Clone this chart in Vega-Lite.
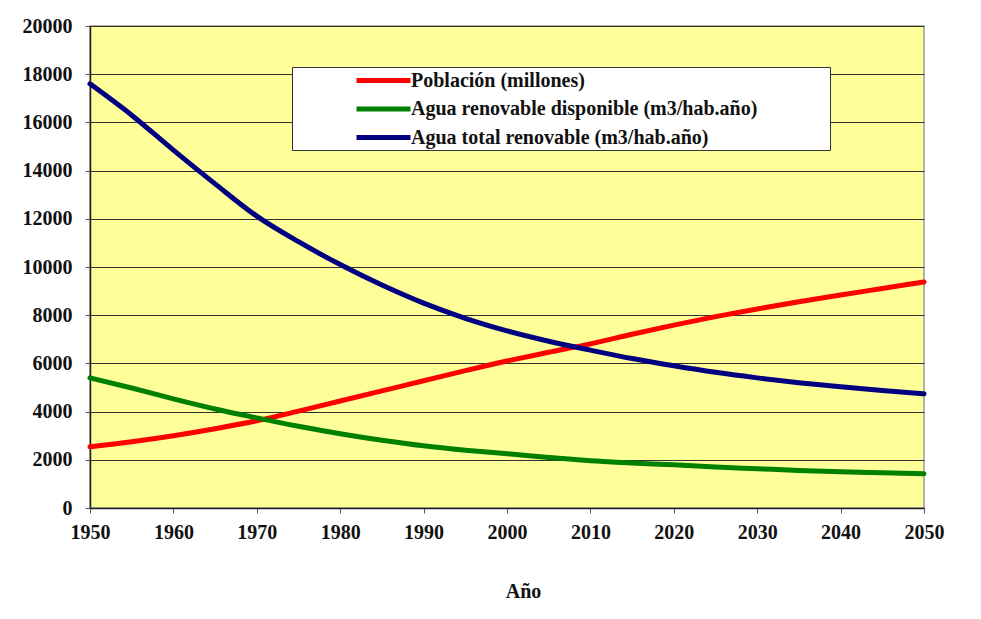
{
  "$schema": "https://vega.github.io/schema/vega-lite/v6.json",
  "autosize": {"type": "none"},
  "width": 834,
  "height": 482,
  "padding": {"left": 90, "top": 26, "right": 57, "bottom": 111},
  "background": "white",
  "config": {
    "font": "Liberation Serif",
    "view": {"fill": "#FFFF99", "stroke": "#9a9a9a", "strokeWidth": 1.5},
    "axis": {
      "labelFont": "Liberation Serif",
      "labelFontWeight": "bold",
      "labelFontSize": 20,
      "labelColor": "#111",
      "labelFlush": false,
      "domainColor": "#222",
      "domainWidth": 1.5,
      "tickColor": "#555",
      "tickSize": 5,
      "gridColor": "#333",
      "gridWidth": 1,
      "gridOpacity": 1
    }
  },
  "data": {
    "values": [
      {"year": 1950, "serie": "Población (millones)", "v": 2540},
      {"year": 1955, "serie": "Población (millones)", "v": 2750},
      {"year": 1960, "serie": "Población (millones)", "v": 3000},
      {"year": 1965, "serie": "Población (millones)", "v": 3290},
      {"year": 1970, "serie": "Población (millones)", "v": 3620},
      {"year": 1975, "serie": "Población (millones)", "v": 4020},
      {"year": 1980, "serie": "Población (millones)", "v": 4440},
      {"year": 1985, "serie": "Población (millones)", "v": 4860},
      {"year": 1990, "serie": "Población (millones)", "v": 5280},
      {"year": 1995, "serie": "Población (millones)", "v": 5700},
      {"year": 2000, "serie": "Población (millones)", "v": 6100},
      {"year": 2005, "serie": "Población (millones)", "v": 6460},
      {"year": 2010, "serie": "Población (millones)", "v": 6810},
      {"year": 2015, "serie": "Población (millones)", "v": 7210},
      {"year": 2020, "serie": "Población (millones)", "v": 7590},
      {"year": 2025, "serie": "Población (millones)", "v": 7940},
      {"year": 2030, "serie": "Población (millones)", "v": 8260},
      {"year": 2035, "serie": "Población (millones)", "v": 8560},
      {"year": 2040, "serie": "Población (millones)", "v": 8840},
      {"year": 2045, "serie": "Población (millones)", "v": 9110},
      {"year": 2050, "serie": "Población (millones)", "v": 9380},
      {"year": 1950, "serie": "Agua renovable disponible (m3/hab.año)", "v": 5400},
      {"year": 1955, "serie": "Agua renovable disponible (m3/hab.año)", "v": 4980},
      {"year": 1960, "serie": "Agua renovable disponible (m3/hab.año)", "v": 4530},
      {"year": 1965, "serie": "Agua renovable disponible (m3/hab.año)", "v": 4110},
      {"year": 1970, "serie": "Agua renovable disponible (m3/hab.año)", "v": 3740},
      {"year": 1975, "serie": "Agua renovable disponible (m3/hab.año)", "v": 3390},
      {"year": 1980, "serie": "Agua renovable disponible (m3/hab.año)", "v": 3080},
      {"year": 1985, "serie": "Agua renovable disponible (m3/hab.año)", "v": 2810},
      {"year": 1990, "serie": "Agua renovable disponible (m3/hab.año)", "v": 2580},
      {"year": 1995, "serie": "Agua renovable disponible (m3/hab.año)", "v": 2400},
      {"year": 2000, "serie": "Agua renovable disponible (m3/hab.año)", "v": 2250},
      {"year": 2005, "serie": "Agua renovable disponible (m3/hab.año)", "v": 2100},
      {"year": 2010, "serie": "Agua renovable disponible (m3/hab.año)", "v": 1960},
      {"year": 2015, "serie": "Agua renovable disponible (m3/hab.año)", "v": 1870},
      {"year": 2020, "serie": "Agua renovable disponible (m3/hab.año)", "v": 1790},
      {"year": 2025, "serie": "Agua renovable disponible (m3/hab.año)", "v": 1700},
      {"year": 2030, "serie": "Agua renovable disponible (m3/hab.año)", "v": 1630},
      {"year": 2035, "serie": "Agua renovable disponible (m3/hab.año)", "v": 1560},
      {"year": 2040, "serie": "Agua renovable disponible (m3/hab.año)", "v": 1500},
      {"year": 2045, "serie": "Agua renovable disponible (m3/hab.año)", "v": 1460},
      {"year": 2050, "serie": "Agua renovable disponible (m3/hab.año)", "v": 1420},
      {"year": 1950, "serie": "Agua total renovable (m3/hab.año)", "v": 17600},
      {"year": 1955, "serie": "Agua total renovable (m3/hab.año)", "v": 16300},
      {"year": 1960, "serie": "Agua total renovable (m3/hab.año)", "v": 14850},
      {"year": 1965, "serie": "Agua total renovable (m3/hab.año)", "v": 13450},
      {"year": 1970, "serie": "Agua total renovable (m3/hab.año)", "v": 12110},
      {"year": 1975, "serie": "Agua total renovable (m3/hab.año)", "v": 11050},
      {"year": 1980, "serie": "Agua total renovable (m3/hab.año)", "v": 10100},
      {"year": 1985, "serie": "Agua total renovable (m3/hab.año)", "v": 9250},
      {"year": 1990, "serie": "Agua total renovable (m3/hab.año)", "v": 8500},
      {"year": 1995, "serie": "Agua total renovable (m3/hab.año)", "v": 7870},
      {"year": 2000, "serie": "Agua total renovable (m3/hab.año)", "v": 7350},
      {"year": 2005, "serie": "Agua total renovable (m3/hab.año)", "v": 6920},
      {"year": 2010, "serie": "Agua total renovable (m3/hab.año)", "v": 6550},
      {"year": 2015, "serie": "Agua total renovable (m3/hab.año)", "v": 6200},
      {"year": 2020, "serie": "Agua total renovable (m3/hab.año)", "v": 5900},
      {"year": 2025, "serie": "Agua total renovable (m3/hab.año)", "v": 5630},
      {"year": 2030, "serie": "Agua total renovable (m3/hab.año)", "v": 5400},
      {"year": 2035, "serie": "Agua total renovable (m3/hab.año)", "v": 5200},
      {"year": 2040, "serie": "Agua total renovable (m3/hab.año)", "v": 5030},
      {"year": 2045, "serie": "Agua total renovable (m3/hab.año)", "v": 4880},
      {"year": 2050, "serie": "Agua total renovable (m3/hab.año)", "v": 4740}
    ]
  },
  "mark": {"type": "line", "interpolate": "monotone", "strokeWidth": 5, "strokeCap": "round"},
  "encoding": {
    "x": {
      "field": "year",
      "type": "quantitative",
      "scale": {"domain": [1950, 2050], "nice": false, "zero": false},
      "axis": {
        "values": [1950, 1960, 1970, 1980, 1990, 2000, 2010, 2020, 2030, 2040, 2050],
        "format": "d",
        "grid": false,
        "labelPadding": 9,
        "title": "Año",
        "titleFont": "Liberation Serif",
        "titleFontWeight": "bold",
        "titleFontSize": 20,
        "titleColor": "#111",
        "titlePadding": 39,
        "titleX": 433
      }
    },
    "y": {
      "field": "v",
      "type": "quantitative",
      "scale": {"domain": [0, 20000], "nice": false},
      "axis": {
        "values": [0, 2000, 4000, 6000, 8000, 10000, 12000, 14000, 16000, 18000, 20000],
        "format": "d",
        "labelPadding": 13,
        "title": null
      }
    },
    "color": {
      "field": "serie",
      "type": "nominal",
      "sort": ["Población (millones)", "Agua renovable disponible (m3/hab.año)", "Agua total renovable (m3/hab.año)"],
      "scale": {
        "domain": ["Población (millones)", "Agua renovable disponible (m3/hab.año)", "Agua total renovable (m3/hab.año)"],
        "range": ["#FF0000", "#008000", "#000080"]
      },
      "legend": {
        "title": null,
        "orient": "none",
        "legendX": 202,
        "legendY": 41,
        "fillColor": "white",
        "strokeColor": "#333",
        "padding": 2,
        "symbolOffset": 78,
        "symbolType": "M-3,0H3",
        "symbolSize": 324,
        "symbolStrokeWidth": 5,
        "symbolFillColor": "transparent",
        "labelFont": "Liberation Serif",
        "labelFontWeight": "bold",
        "labelFontSize": 20,
        "labelColor": "#111",
        "labelOffset": 16,
        "labelLimit": 700,
        "rowPadding": 6.5,
        "labelExpr": "datum.label + '\u00a0\u00a0\u00a0\u00a0\u00a0\u00a0\u00a0\u00a0\u00a0\u00a0\u00a0\u00a0\u00a0\u00a0\u200b'"
      }
    }
  }
}
